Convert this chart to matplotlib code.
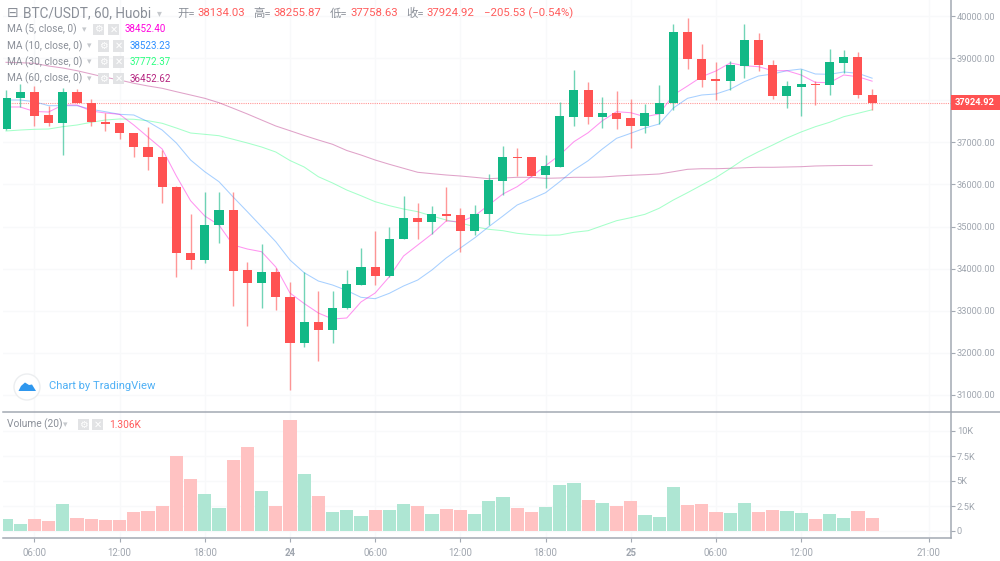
import numpy as np
import matplotlib
matplotlib.use('Agg')
import matplotlib.pyplot as plt
from matplotlib.patches import Rectangle, Circle, Polygon

# hours from 24 00:00, one candle per hour
hours = list(range(-20, 42))

opens = [37310, 38045, 38188, 37649, 37466, 38202, 37934, 37490, 37452, 37221, 36889, 36658, 35946, 34378, 34198, 35029,
         35400, 33968, 33652, 33913, 33334, 32241, 32733, 32535, 33058, 33619, 34032, 33825, 34697, 35210, 35100, 35290,
         35267, 34894, 35298, 36088, 36658, 36644, 36224, 36421, 37594, 38243, 37594, 37703, 37570, 37380, 37673, 37927,
         39620, 38979, 38504, 38449, 38820, 39430, 38829, 38100, 38314, 38385, 38368, 38891, 39019, 38134.03]
highs = [38240, 38385, 38337, 37870, 38297, 38259, 38029, 37696, 37459, 37221, 37364, 36817, 35963, 35290, 35827, 35813,
         35813, 34150, 34578, 34008, 33683, 33913, 33469, 33469, 33960, 34483, 34887, 34996, 35732, 35552, 35480, 35932,
         35433, 35504, 36240, 36913, 36872, 36658, 36699, 37950, 38718, 38440, 38069, 38212, 38022, 37903, 38361, 39810,
         39945, 39335, 38908, 38924, 39810, 39589, 38955, 38449, 38741, 38449, 39216, 39200, 39145, 38255.87]
lows = [37290, 37839, 37387, 37395, 36699, 37925, 37395, 37269, 37072, 36651, 36342, 35559, 33808, 33998, 34141, 34602,
        33105, 32630, 33058, 33018, 31118, 32146, 31814, 32241, 33053, 33611, 33619, 33813, 34692, 34711, 34823, 35138,
        34402, 34792, 35043, 35756, 36200, 36200, 35908, 36414, 37395, 37435, 37340, 37316, 36858, 37228, 37435, 37768,
        38741, 38321, 38005, 38250, 38520, 38701, 38036, 37822, 37632, 37886, 38131, 38653, 38060, 37758.63]
closes = [38045, 38188, 37632, 37466, 38202, 37927, 37483, 37442, 37214, 36882, 36651, 35939, 34378, 34198, 35036, 35400,
          33951, 33652, 33913, 33326, 32241, 32733, 32535, 33065, 33628, 34032, 33825, 34711, 35210, 35108, 35290, 35257,
          34894, 35305, 36105, 36644, 36627, 36207, 36430, 37632, 38243, 37594, 37689, 37554, 37380, 37689, 37941, 39620,
          38972, 38480, 38449, 38829, 39430, 38829, 38100, 38330, 38385, 38361, 38907, 39019, 38131, 37924.92]

ma5 = [37839, 37839, 37732, 37720, 37886, 37886, 37744, 37696, 37665, 37411, 37126, 36841, 36200, 35613, 35250, 35036,
       34561, 34466, 34402, 34039, 33421, 33172, 32946, 32804, 32828, 33208, 33421, 33808, 34300, 34561, 34823, 35131,
       35115, 35250, 35511, 35773, 35946, 36183, 36445, 36699, 37015, 37228, 37513, 37727, 37703, 37608, 37673, 38124,
       38338, 38558, 38694, 38884, 38820, 38796, 38701, 38701, 38599, 38425, 38416, 38599, 38558, 38452.40]
ma10 = [38005, 38005, 37965, 37870, 37870, 37870, 37784, 37727, 37665, 37649, 37490, 37292, 36984, 36580, 36302, 36065,
        35701, 35352, 34996, 34640, 34205, 33903, 33706, 33611, 33481, 33319, 33286, 33414, 33588, 33730, 33968, 34252,
        34490, 34728, 34996, 35250, 35511, 35654, 35803, 36065, 36343, 36563, 36841, 37095, 37214, 37340, 37435, 37815,
        38045, 38124, 38148, 38259, 38440, 38575, 38623, 38701, 38741, 38623, 38615, 38670, 38639, 38523.23]
ma30 = [37269, 37292, 37309, 37316, 37371, 37411, 37475, 37530, 37554, 37547, 37513, 37452, 37340, 37221, 37190, 37157,
        37072, 36984, 36889, 36770, 36568, 36414, 36183, 36034, 35867, 35732, 35590, 35495, 35416, 35352, 35250, 35155,
        35084, 34996, 34934, 34901, 34839, 34806, 34792, 34799, 34863, 34901, 35020, 35138, 35210, 35290, 35433, 35630,
        35804, 35986, 36164, 36378, 36604, 36777, 36936, 37102, 37245, 37371, 37475, 37608, 37689, 37772.37]
ma60 = [38900, 38891, 38877, 38812, 38765, 38701, 38623, 38544, 38480, 38402, 38338, 38283, 38202, 38124, 38045, 37941,
        37808, 37673, 37530, 37388, 37276, 37162, 37055, 36953, 36806, 36699, 36580, 36478, 36383, 36288, 36255, 36224,
        36200, 36169, 36136, 36153, 36169, 36169, 36145, 36153, 36169, 36169, 36176, 36200, 36217, 36231, 36248, 36302,
        36359, 36373, 36373, 36383, 36397, 36407, 36407, 36414, 36421, 36438, 36445, 36450, 36450, 36452.62]

volumes = [1230, 730, 1230, 970, 2700, 1300, 1230, 1130, 1070, 1870, 1970, 2530, 7470, 5230, 3670, 2300,
           7130, 8430, 4000, 2530, 11130, 5730, 3530, 1900, 2130, 1500, 2070, 2130, 2700, 2470, 1670, 2200,
           2130, 1670, 3000, 3370, 2300, 1900, 2400, 4600, 4770, 3130, 2800, 2470, 3030, 1570, 1400, 4430,
           2630, 2700, 1900, 1830, 2800, 1900, 2070, 2000, 1830, 1170, 1670, 1330, 1970, 1306]

price_ticks = [31000, 32000, 33000, 34000, 35000, 36000, 37000, 38000, 39000, 40000]
# 38000.00 is hidden by the last price tag
price_labels = ['31000.00', '32000.00', '33000.00', '34000.00', '35000.00', '36000.00', '37000.00', '', '39000.00', '40000.00']
vol_ticks = [0, 2500, 5000, 7500, 10000]
vol_labels = ['0', '2.5K', '5K', '7.5K', '10K']
time_ticks = [-18, -12, -6, 0, 6, 12, 18, 24, 30, 36, 45]
time_labels = ['06:00', '12:00', '18:00', '24', '06:00', '12:00', '18:00', '25', '06:00', '12:00', '21:00']

last_price = 37924.92

GREEN = '#12b886'
RED = '#ff5252'
AXIS = '#a3a9b3'
TICK_TEXT = '#a0a6af'
GRID = '#f8f9fa'
FONT = ['Roboto', 'Noto Sans CJK SC', 'DejaVu Sans']

W, H = 1000, 561
fig = plt.figure(figsize=(10, 5.61), dpi=100)


def px_axes(x0, y0, x1, y1):
    return fig.add_axes([x0 / W, 1 - y1 / H, (x1 - x0) / W, (y1 - y0) / H])


def label(x, y, s, color='#8a8f98', size=8, **kw):
    kw.setdefault('family', FONT)
    fig.text(x / W, 1 - y / H, s, color=color, fontsize=size, va='center', **kw)


def icon_box(x, y, s):
    fig.add_artist(Rectangle((x / W, 1 - (y + 5.5) / H), 11 / W, 11 / H, transform=fig.transFigure,
                             color='#e2e3e5', lw=0))
    fig.text((x + 5.5) / W, 1 - y / H, s, color='white', fontsize=7, ha='center', va='center',
             family='DejaVu Sans', fontweight='bold')


ax = px_axes(3, 0, 950.5, 411.5)
vol = px_axes(3, 411.5, 950.5, 537.5)

x = np.array(hours)
o, h, l, c = map(np.array, (opens, highs, lows, closes))
up = c >= o
colors = np.where(up, GREEN, RED)

# moving averages sit under the candles
ax.plot(x, ma60, color='#b5237f', lw=0.75, alpha=0.42, zorder=2)
ax.plot(x, ma30, color='#2bff80', lw=0.75, alpha=0.42, zorder=2)
ax.plot(x, ma10, color='#2e8fff', lw=0.75, alpha=0.42, zorder=2)
ax.plot(x, ma5, color='#ff00dd', lw=0.75, alpha=0.42, zorder=2)
ax.axhline(last_price, color=RED, lw=0.8, ls=(0, (1, 1)), alpha=0.6, zorder=1)

ax.vlines(x, l, h, colors=colors, lw=1, alpha=0.6, zorder=3)
ax.bar(x, np.maximum(np.abs(c - o), 25), bottom=np.minimum(o, c), width=0.64, color=colors, lw=0, zorder=4)

vol.bar(x, volumes, width=0.93, color=np.where(up, '#aee6d3', '#ffc2c2'), lw=0, zorder=2)

ax.set_xlim(-20.21, 46.52)
vol.set_xlim(-20.21, 46.52)
ax.set_ylim(30607, 40380)
vol.set_ylim(-650, 11950)

ax.set_yticks(price_ticks)
ax.set_yticklabels(price_labels)
ax.set_xticks(time_ticks)
ax.tick_params(axis='x', length=0, labelbottom=False)
vol.set_yticks(vol_ticks)
vol.set_yticklabels(vol_labels)
vol.set_xticks(time_ticks)
vol.set_xticklabels(time_labels)
for tl, t in zip(vol.get_xticklabels(), time_labels):
    if len(t) == 2:
        tl.set_fontweight('bold')

for a in (ax, vol):
    a.grid(True, color=GRID, lw=1, zorder=0)
    a.set_axisbelow(True)
    a.yaxis.tick_right()
    a.tick_params(axis='y', length=3, width=0.8, color=AXIS, labelcolor=TICK_TEXT, labelsize=6.7, pad=1.5)
    for s in a.spines.values():
        s.set_visible(False)
    a.spines['right'].set_visible(True)
    a.spines['right'].set_color(AXIS)
    a.spines['right'].set_linewidth(1.1)
    for tl in a.get_yticklabels():
        tl.set_family(FONT)
vol.spines['bottom'].set_visible(True)
vol.spines['bottom'].set_color(AXIS)
vol.spines['bottom'].set_linewidth(1.1)
vol.tick_params(axis='x', length=3, width=0.8, color=AXIS, labelcolor=TICK_TEXT, labelsize=6.9, pad=4.5)
for tl in vol.get_xticklabels():
    tl.set_family(FONT)

# pane separator runs on past the price scale
fig.add_artist(plt.Line2D([3 / W, 1], [1 - 411.5 / H] * 2, color=AXIS, lw=1.1))

# last price tag
fig.add_artist(Rectangle((951 / W, 1 - 110 / H), 49 / W, 15.5 / H, transform=fig.transFigure, color=RED, lw=0))
label(974.5, 102.3, '37924.92', color='white', size=6.7, ha='center', fontweight='bold')

# header
label(7, 13, '\u229f', color='#8a8f98', size=10, family='DejaVu Sans')
label(23, 13.5, 'BTC/USDT, 60, Huobi', color='#8a8f98', size=9.8)
label(157, 13.5, '\u25be', color='#c5c8cc', size=7, family='DejaVu Sans')
head_x = [177, 253, 330, 406]
head_names = ['开=', '高=', '低=', '收=']
head_vals = ['38134.03', '38255.87', '37758.63', '37924.92']
for hx, n, v in zip(head_x, head_names, head_vals):
    label(hx, 13.5, n, color='#8a8f98', size=8.2)
    label(hx + 20, 13.5, v, color='#ff5c5c', size=8.2)
label(484, 13.5, '\u2212205.53 (\u22120.54%)', color='#ff5c5c', size=8.2)

# study legends
legend_rows = [
    (29.5, 'MA (5, close, 0)', 93, 125, '38452.40', '#ff00dd'),
    (46, 'MA (10, close, 0)', 98, 130, '38523.23', '#2e8fff'),
    (62, 'MA (30, close, 0)', 98, 130, '37772.37', '#2bff80'),
    (78.5, 'MA (60, close, 0)', 98, 130, '36452.62', '#b5237f'),
]
for ly, name, bx, vx, val, col in legend_rows:
    label(7, ly, name, color='#8a8f98', size=7.3)
    label(bx - 11, ly, '\u25be', color='#c5c8cc', size=6.5, family='DejaVu Sans')
    icon_box(bx, ly, '\u2699')
    icon_box(bx + 15, ly, '\u2715')
    label(vx, ly, val, color=col, size=7)

label(7, 424.5, 'Volume (20)', color='#8a8f98', size=7.3)
label(63, 424.5, '\u25be', color='#c5c8cc', size=6.5, family='DejaVu Sans')
icon_box(78, 424.5, '\u2699')
icon_box(92, 424.5, '\u2715')
label(109.5, 424.5, '1.306K', color='#ff5c5c', size=7.3)

# TradingView badge
fig.add_artist(Circle((27, H - 387), 13, transform=None, fc='white', ec='#eceef0', lw=1))
fig.add_artist(Polygon([(18.5, H - 391), (21, H - 386), (25, H - 382.5), (29, H - 385), (32, H - 384.5), (36, H - 391)],
                       closed=True, transform=None, fc='#2f97ee', lw=0))
label(49, 386, 'Chart by TradingView', color='#4fb0f5', size=8.1)

fig.savefig('out.png', dpi=100)
